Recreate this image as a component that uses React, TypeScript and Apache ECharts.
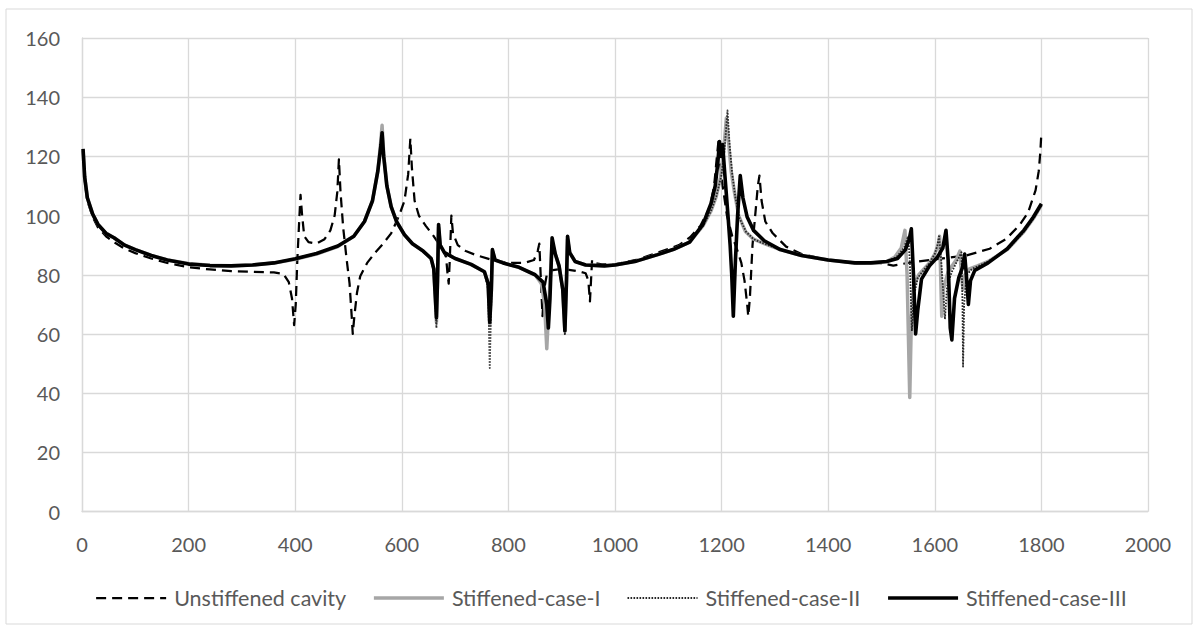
import React, { useEffect, useRef } from "react";
import * as echarts from "echarts";

const seriesNames = ["Unstiffened cavity", "Stiffened-case-I", "Stiffened-case-II", "Stiffened-case-III"];

const unstiffened: number[][] = [
  [2, 120], [5, 112], [10, 105], [20, 99.5], [30, 96], [45, 93], [60, 91], [80, 88.8], [100, 87.3], [130, 85.5],
  [160, 84], [200, 82.5], [240, 81.8], [280, 81.2], [320, 81], [360, 80.8], [378, 80.3], [388, 77.5], [394, 72],
  [398, 63], [401, 70], [404, 85], [408, 100], [410, 107], [413, 100], [417, 93], [425, 91], [440, 90.5], [455, 92],
  [466, 95], [474, 100], [479, 108], [482, 119], [485, 108], [490, 96], [496, 86], [502, 77], [506, 66], [508, 60],
  [511, 66], [516, 74], [522, 79.5], [535, 84], [550, 87.5], [565, 90.5], [580, 94], [595, 100], [605, 105],
  [612, 114], [616, 126], [619, 116], [624, 105], [632, 100], [645, 96.5], [660, 93], [675, 89], [683, 86],
  [686, 80], [688, 77], [690, 85], [693, 100], [696, 94], [705, 90], [720, 88], [740, 86.6], [770, 85], [800, 84],
  [830, 84], [848, 85], [855, 88], [858, 90.5], [861, 78], [864, 66], [867, 75], [872, 80], [880, 81.5],
  [900, 82], [920, 81.5], [935, 81], [945, 80.5], [950, 78], [953, 71], [955, 78], [957, 85], [962, 84],
  [975, 83.5], [1000, 83.5], [1040, 85], [1080, 87.5], [1120, 90], [1141, 92.7], [1160, 96.5], [1178, 102.8],
  [1186, 110], [1191, 119.6], [1194, 125], [1197, 118], [1202, 110], [1210, 100], [1220, 93], [1230, 88],
  [1237, 84], [1243, 78], [1248, 70], [1250, 66], [1253, 72], [1258, 90], [1263, 100], [1268, 110], [1271, 113.5],
  [1275, 105], [1282, 98], [1296, 94], [1321, 89.5], [1350, 87], [1400, 85], [1450, 83.8], [1497, 84],
  [1522, 83.1], [1559, 84.3], [1600, 85.2], [1659, 86.5], [1703, 88.8], [1734, 92.1], [1760, 97], [1775, 101],
  [1789, 108.5], [1795, 115], [1798, 121.5], [1800, 128]
];

const caseI: number[][] = [
  [2, 122], [5, 113], [10, 106], [20, 100.5], [30, 97], [45, 94], [60, 92.5], [80, 90], [100, 88.5], [130, 86.5],
  [160, 85], [200, 83.8], [240, 83.2], [280, 83], [320, 83.3], [360, 84], [400, 85.2], [440, 87], [480, 89.5],
  [510, 93], [530, 98], [545, 105], [555, 115], [560, 124], [563, 130.5], [566, 121], [572, 110], [580, 103],
  [590, 98], [605, 93.5], [620, 90.5], [640, 88], [655, 85.5], [660, 82], [663, 72], [665, 64], [667, 78],
  [669, 96], [672, 90], [680, 87.5], [700, 85.5], [730, 83.5], [755, 81], [762, 77], [765, 63], [768, 75],
  [770, 88], [775, 85], [790, 84], [820, 82.5], [850, 80], [862, 77], [868, 70], [872, 55], [876, 70], [882, 91],
  [888, 87], [895, 83], [902, 75], [906, 61], [909, 78], [911, 92], [915, 87.5], [925, 84.5], [945, 83.3],
  [980, 83], [1000, 83.3], [1040, 84.6], [1080, 86.8], [1110, 88.6], [1140, 91], [1165, 96.5], [1180, 101.5],
  [1190, 106.5], [1198, 113], [1204, 122], [1209, 133], [1213, 125], [1218, 115], [1224, 108], [1232, 100],
  [1245, 94.5], [1260, 92], [1280, 90.5], [1310, 88.5], [1350, 86.5], [1400, 85], [1450, 84], [1480, 84],
  [1510, 84.5], [1525, 86], [1537, 89], [1544, 95], [1548, 80], [1553, 38.5], [1556, 65], [1560, 76], [1570, 80],
  [1590, 84], [1600, 87], [1606, 90], [1609, 93], [1611, 80], [1613, 66], [1616, 75], [1625, 81], [1640, 85],
  [1647, 88], [1650, 80], [1653, 75], [1657, 80], [1665, 82], [1680, 83], [1700, 84.5], [1736, 88.5],
  [1767, 94.5], [1785, 99], [1800, 103.5]
];

const caseII: number[][] = [
  [2, 122], [5, 113], [10, 106], [20, 100.5], [30, 97], [45, 94], [60, 92.5], [80, 90], [100, 88.5], [130, 86.5],
  [160, 85], [200, 83.8], [240, 83.2], [280, 83], [320, 83.3], [360, 84], [400, 85.2], [440, 87], [480, 89.5],
  [510, 93], [530, 98], [545, 105], [555, 115], [561, 124], [563, 128], [566, 120], [572, 110], [580, 103],
  [590, 98], [605, 93.5], [620, 90.5], [640, 88], [655, 85.5], [660, 81], [663, 70], [665, 62], [667, 78],
  [669, 96], [672, 90], [680, 87.5], [700, 85.5], [730, 83.5], [755, 81], [762, 75], [765, 48.5], [768, 72],
  [770, 88], [775, 85], [790, 84], [820, 82.5], [850, 80], [865, 77.5], [872, 70], [875, 62], [878, 72],
  [882, 92], [888, 87], [895, 83], [902, 74], [906, 59.5], [909, 78], [911, 92.5], [915, 87.5], [925, 84.5],
  [945, 83.3], [980, 83], [1000, 83.3], [1040, 84.6], [1080, 86.8], [1110, 88.6], [1140, 91], [1165, 96.5],
  [1180, 101.5], [1190, 106.5], [1199, 113], [1205, 121], [1211, 135.5], [1215, 124], [1220, 114], [1226, 106],
  [1234, 99], [1246, 94.5], [1260, 92], [1280, 90.5], [1310, 88.5], [1350, 86.5], [1400, 85], [1450, 84],
  [1480, 84], [1510, 84.5], [1528, 86], [1542, 89], [1550, 93], [1553, 85], [1557, 61], [1560, 72], [1568, 79],
  [1590, 84], [1600, 87], [1605, 90], [1608, 93], [1612, 85], [1619, 65], [1623, 76], [1632, 81], [1643, 85],
  [1650, 87.6], [1652, 70], [1653, 49], [1655, 70], [1660, 80], [1670, 82], [1700, 84.5], [1736, 88.5],
  [1767, 94.5], [1785, 99], [1800, 103.5]
];

const caseIII: number[][] = [
  [2, 122.5], [5, 113], [10, 106], [20, 100.5], [30, 97], [45, 94], [60, 92.5], [80, 90], [100, 88.5],
  [130, 86.5], [160, 85], [200, 83.6], [240, 83.1], [280, 83], [320, 83.3], [360, 84], [400, 85.4], [440, 87.2],
  [480, 89.7], [510, 93], [530, 98], [545, 105], [555, 115], [561, 124], [563, 128], [566, 120], [572, 110],
  [580, 103], [590, 98], [605, 93.5], [620, 90.5], [640, 88], [655, 85.5], [660, 82], [663, 72], [665, 65.5],
  [667, 78], [669, 97], [672, 90], [680, 87.5], [700, 85.5], [730, 83.5], [755, 81], [762, 77], [765, 64],
  [768, 75], [770, 88.5], [775, 85], [790, 84], [820, 82.5], [850, 80], [865, 77.5], [872, 70], [875, 62],
  [878, 72], [882, 92.5], [888, 87], [895, 83], [902, 75], [906, 61], [909, 78], [911, 93], [915, 87.5],
  [925, 84.5], [945, 83.3], [980, 83], [1000, 83.3], [1040, 84.6], [1080, 86.8], [1110, 88.6], [1140, 91],
  [1165, 97], [1180, 104], [1188, 110], [1193, 118], [1196, 125], [1199, 120], [1202, 124], [1206, 114],
  [1212, 100], [1216, 90], [1219, 80], [1222, 66], [1226, 85], [1230, 100], [1235, 113.5], [1240, 106],
  [1248, 99.5], [1260, 95], [1280, 91.5], [1310, 88.5], [1350, 86.5], [1400, 85], [1450, 84], [1480, 84],
  [1510, 84.5], [1530, 85.5], [1545, 88.5], [1552, 92], [1556, 95.5], [1560, 80], [1564, 60], [1568, 68],
  [1575, 78.5], [1590, 83], [1605, 86], [1615, 89], [1621, 95], [1625, 85], [1629, 62], [1632, 58], [1637, 72],
  [1645, 79], [1652, 82.5], [1656, 87], [1660, 78], [1663, 70], [1667, 78], [1675, 81.5], [1700, 84],
  [1736, 88.8], [1767, 95], [1785, 99.5], [1800, 104]
];

const xMin = 0, xMax = 2000, xStep = 200;
const yMin = 0, yMax = 160, yStep = 20;

const FONT = "Lato, 'Open Sans', sans-serif";
const TEXT = "#595959";
const GRID = "#d9d9d9";

export default function App() {
  const ref = useRef<HTMLDivElement>(null);
  useEffect(() => {
    if (!ref.current) return;
    const chart = echarts.init(ref.current, undefined, { renderer: "svg" });
    const base = (name: string, data: number[][], color: string, lineStyle: any, z: number) => ({
      name,
      type: "line",
      data,
      symbol: "none",
      showSymbol: false,
      z,
      color,
      itemStyle: { color },
      lineStyle: { join: "round", color, ...lineStyle },
      emphasis: { disabled: true },
    });
    chart.setOption({
      animation: false,
      backgroundColor: "#ffffff",
      textStyle: { fontFamily: FONT },
      graphic: [
        {
          type: "rect",
          shape: { x: 6, y: 9, width: 1186, height: 615 },
          style: { fill: "none", stroke: GRID, lineWidth: 1 },
          silent: true,
        },
      ],
      grid: { left: 82, top: 38, right: 51, bottom: 121.5, containLabel: false },
      xAxis: {
        type: "value",
        min: xMin,
        max: xMax,
        interval: xStep,
        axisLine: { show: true, lineStyle: { color: GRID, width: 1.3 } },
        axisTick: { show: false },
        splitLine: { show: true, lineStyle: { color: GRID, width: 1.3 } },
        axisLabel: {
          color: TEXT,
          fontSize: 20,
          fontFamily: FONT,
          margin: 22,
          formatter: (v: number) => String(v),
        },
      },
      yAxis: {
        type: "value",
        min: yMin,
        max: yMax,
        interval: yStep,
        axisLine: { show: true, lineStyle: { color: GRID, width: 1.3 } },
        axisTick: { show: false },
        splitLine: { show: true, lineStyle: { color: GRID, width: 1.3 } },
        axisLabel: {
          color: TEXT,
          fontSize: 20,
          fontFamily: FONT,
          margin: 22,
          formatter: (v: number) => String(v),
        },
      },
      legend: {
        data: seriesNames,
        left: 90,
        top: 582,
        itemWidth: 70,
        itemHeight: 14,
        itemGap: 26,
        itemStyle: { opacity: 0 },
        lineStyle: { width: "inherit" },
        textStyle: { color: TEXT, fontSize: 21.5, fontFamily: FONT, padding: [0, 0, 0, 3] },
      },
      series: [
        base(seriesNames[0], unstiffened, "#000000", { width: 2.25, type: [10, 6], cap: "butt" }, 1),
        base(seriesNames[1], caseI, "#a6a6a6", { width: 3.5 }, 2),
        base(seriesNames[2], caseII, "#262626", { width: 1.8, type: [1.6, 1.4] }, 3),
        base(seriesNames[3], caseIII, "#000000", { width: 3.6 }, 4),
      ],
    });
    return () => chart.dispose();
  }, []);
  return (
    <div
      ref={ref}
      style={{ position: "absolute", left: 0, top: 0, width: 1199, height: 633 }}
    />
  );
}
